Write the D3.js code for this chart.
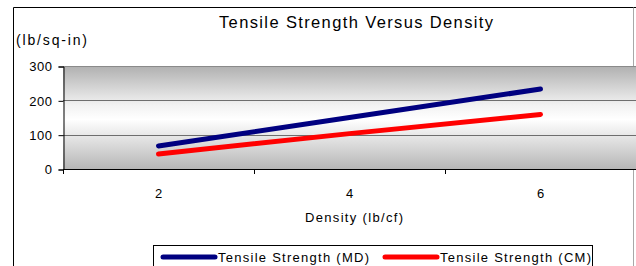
<!DOCTYPE html>
<html><head><meta charset="utf-8">
<script src="https://cdn.jsdelivr.net/npm/d3@7"></script>
<style>body{margin:0;background:#fff}svg{display:block;font-family:"Liberation Sans",Arial,sans-serif}</style>
</head><body><svg id="c" width="636" height="266"></svg>
<script>
const categories = ["2", "4", "6"];
const seriesNames = ["Tensile Strength (MD)", "Tensile Strength (CM)"];
const mdValues = [67, 150, 233];
const cmValues = [44, 103, 159];
const yTicks = [0, 100, 200, 300];
const colors = ["#000080", "#ff0000"];

const svg = d3.select("#c");
const M = {left: 63, right: 636, top: 66, bottom: 169};

// outer chart border
svg.append("line").attr("x1", 13.5).attr("x2", 636).attr("y1", 7.5).attr("y2", 7.5).attr("stroke", "#000");
svg.append("line").attr("x1", 13.5).attr("x2", 13.5).attr("y1", 7.5).attr("y2", 266).attr("stroke", "#000");
svg.append("line").attr("x1", 633.5).attr("x2", 633.5).attr("y1", 7.5).attr("y2", 266).attr("stroke", "#a8a8a8");

const x = d3.scaleBand().domain(categories).range([M.left, M.right]);
const y = d3.scaleLinear().domain([0, 300]).range([M.bottom, M.top]);

// gradient plot background
const defs = svg.append("defs");
const g = defs.append("linearGradient").attr("id", "bg").attr("x1", 0).attr("y1", 0).attr("x2", 0).attr("y2", 1);
g.append("stop").attr("offset", "0%").attr("stop-color", "#b0b0b0");
g.append("stop").attr("offset", "38%").attr("stop-color", "#f2f2f2");
g.append("stop").attr("offset", "52%").attr("stop-color", "#ffffff");
g.append("stop").attr("offset", "100%").attr("stop-color", "#b6b6b6");
svg.append("rect").attr("x", M.left).attr("y", M.top).attr("width", M.right - M.left).attr("height", M.bottom - M.top)
  .attr("fill", "url(#bg)");

// gridlines
svg.append("g").selectAll("line").data(yTicks.filter(d => d > 0)).join("line")
  .attr("x1", M.left).attr("x2", M.right)
  .attr("y1", d => Math.round(y(d)) + 0.5).attr("y2", d => Math.round(y(d)) + 0.5)
  .attr("stroke", d => d === 300 ? "#8a8a8a" : "#6e6e6e").attr("stroke-width", 1);

// y axis
const yAxis = svg.append("g").attr("transform", `translate(${M.left + 0.5},0.5)`)
  .call(d3.axisLeft(y).tickValues(yTicks).tickSize(5).tickPadding(6).tickFormat(d3.format("d")));
yAxis.select(".domain").attr("stroke", "#000");
yAxis.selectAll(".tick line").attr("stroke", "#000");
yAxis.selectAll("text").attr("font-size", 13).attr("fill", "#000").attr("letter-spacing", "0.5px")
  .attr("font-family", "Liberation Sans, Arial, sans-serif");

// x axis with ticks between categories
const xBoundaries = [M.left].concat(categories.map(c => x(c) + x.bandwidth()));
const xg = svg.append("g");
xg.append("line").attr("x1", M.left).attr("x2", M.right).attr("y1", M.bottom + 0.5).attr("y2", M.bottom + 0.5).attr("stroke", "#000");
xg.selectAll("line.t").data(xBoundaries).join("line").attr("class", "t")
  .attr("x1", d => Math.round(d) + 0.5).attr("x2", d => Math.round(d) + 0.5)
  .attr("y1", M.bottom).attr("y2", M.bottom + 5).attr("stroke", "#000");
xg.selectAll("text").data(categories).join("text")
  .attr("x", d => x(d) + x.bandwidth() / 2).attr("y", 198)
  .attr("text-anchor", "middle").attr("font-size", 13).text(d => d);

// lines
const line = d3.line().x((d, i) => x(categories[i]) + x.bandwidth() / 2).y(d => y(d));
[mdValues, cmValues].forEach((vals, i) => {
  svg.append("path").datum(vals).attr("d", line).attr("fill", "none")
    .attr("stroke", colors[i]).attr("stroke-width", 5).attr("stroke-linecap", "round");
});

// titles
svg.append("text").attr("x", 219).attr("y", 28)
  .attr("font-size", 16.5).attr("textLength", 274).text("Tensile Strength Versus Density");
svg.append("text").attr("x", 16).attr("y", 45).attr("font-size", 14).attr("textLength", 71).text("(lb/sq-in)");
svg.append("text").attr("x", 305).attr("y", 222).attr("font-size", 13)
  .attr("textLength", 98).text("Density (lb/cf)");

// legend
svg.append("rect").attr("x", 153.5).attr("y", 245.5).attr("width", 439).attr("height", 40)
  .attr("fill", "#fff").attr("stroke", "#000");
const legX = [163, 385];
seriesNames.forEach((n, i) => {
  svg.append("line").attr("x1", legX[i]).attr("x2", legX[i] + 52).attr("y1", 257).attr("y2", 257)
    .attr("stroke", colors[i]).attr("stroke-width", 5).attr("stroke-linecap", "round");
  svg.append("text").attr("x", legX[i] + 55).attr("y", 262).attr("font-size", 13)
    .attr("textLength", 151).text(n);
});
</script></body></html>
